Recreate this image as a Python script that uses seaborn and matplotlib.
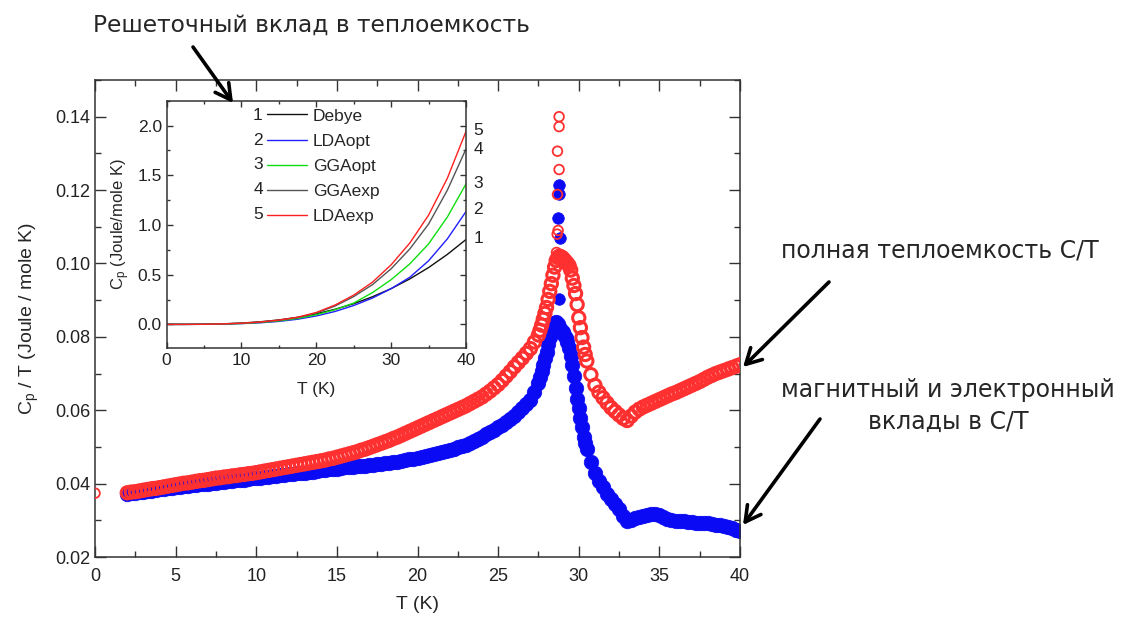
"""
Теплоемкость: полная C/T и магнитный + электронный вклад, во вставке — решеточный вклад
"""

import matplotlib

matplotlib.use("Agg")
import matplotlib.pyplot as plt
import seaborn as sns
from matplotlib.ticker import FormatStrFormatter, MultipleLocator

# pylint: disable=invalid-name

IMAGE_PATH = "out.png"

# --- основные данные: температура, полная C/T, магнитный+электронный вклад ---
T_K = [
    2.0, 2.25, 2.5, 2.75, 3.0, 3.25, 3.5, 3.75, 4.0, 4.25, 4.5, 4.75,
    5.0, 5.25, 5.5, 5.75, 6.0, 6.25, 6.5, 6.75, 7.0, 7.25, 7.5, 7.75,
    8.0, 8.25, 8.5, 8.75, 9.0, 9.25, 9.5, 9.75, 10.0, 10.25, 10.5, 10.75,
    11.0, 11.25, 11.5, 11.75, 12.0, 12.25, 12.5, 12.75, 13.0, 13.25, 13.5, 13.75,
    14.0, 14.25, 14.5, 14.75, 15.0, 15.25, 15.5, 15.75, 16.0, 16.25, 16.5, 16.75,
    17.0, 17.25, 17.5, 17.75, 18.0, 18.25, 18.5, 18.75, 19.0, 19.25, 19.5, 19.75,
    20.0, 20.25, 20.5, 20.75, 21.0, 21.25, 21.5, 21.75, 22.0, 22.25, 22.5, 22.75,
    23.0, 23.25, 23.5, 23.75, 24.0, 24.25, 24.5, 24.75, 25.0, 25.25, 25.5, 25.75,
    26.0, 26.25, 26.5, 26.75, 27.0, 27.25, 27.5,
    27.6, 27.7, 27.8, 27.9, 28.0, 28.1, 28.2, 28.3, 28.4, 28.5,
    28.6, 28.7, 28.8, 28.9, 29.0, 29.1, 29.2, 29.3, 29.4, 29.5,
    29.6, 29.7, 29.8, 29.9, 30.0, 30.1, 30.2, 30.3, 30.4, 30.5,
    30.75, 31.0, 31.25, 31.5, 31.75, 32.0, 32.25, 32.5, 32.75, 33.0,
    33.25, 33.5, 33.75, 34.0, 34.25, 34.5, 34.75, 35.0, 35.25, 35.5,
    35.75, 36.0, 36.25, 36.5, 36.75, 37.0, 37.25, 37.5, 37.75, 38.0,
    38.25, 38.5, 38.75, 39.0, 39.25, 39.5, 39.75, 40.0,
]

CP_TOTAL = [
    0.0375, 0.0377, 0.0378, 0.0380, 0.0382, 0.0384, 0.0386, 0.0387, 0.0389, 0.0391, 0.0393, 0.0395,
    0.0397, 0.0399, 0.0401, 0.0402, 0.0404, 0.0406, 0.0408, 0.0409, 0.0411, 0.0413, 0.0415, 0.0416,
    0.0418, 0.0419, 0.0421, 0.0422, 0.0424, 0.0425, 0.0427, 0.0428, 0.0430, 0.0432, 0.0434, 0.0436,
    0.0438, 0.0440, 0.0442, 0.0444, 0.0446, 0.0448, 0.0450, 0.0452, 0.0454, 0.0456, 0.0458, 0.0460,
    0.0462, 0.0464, 0.0467, 0.0469, 0.0472, 0.0475, 0.0478, 0.0481, 0.0484, 0.0487, 0.0491, 0.0494,
    0.0498, 0.0502, 0.0506, 0.0510, 0.0514, 0.0518, 0.0523, 0.0527, 0.0532, 0.0537, 0.0542, 0.0547,
    0.0552, 0.0557, 0.0562, 0.0567, 0.0572, 0.0577, 0.0582, 0.0587, 0.0592, 0.0597, 0.0602, 0.0607,
    0.0612, 0.0618, 0.0624, 0.0630, 0.0636, 0.0644, 0.0652, 0.0661, 0.0670, 0.0681, 0.0693, 0.0705,
    0.0718, 0.0730, 0.0742, 0.0755, 0.0768, 0.0786, 0.0805,
    0.0818, 0.0832, 0.0848, 0.0864, 0.0880, 0.0902, 0.0924, 0.0945, 0.0968, 0.0990,
    0.1008, 0.1016, 0.1020, 0.1018, 0.1015, 0.1010, 0.1005, 0.1000, 0.0994, 0.0982,
    0.0960, 0.0940, 0.0918, 0.0888, 0.0852, 0.0825, 0.0798, 0.0772, 0.0752, 0.0734,
    0.0697, 0.0668, 0.0649, 0.0634, 0.0620, 0.0607, 0.0597, 0.0587, 0.0578, 0.0572,
    0.0584, 0.0595, 0.0603, 0.0609, 0.0614, 0.0619, 0.0624, 0.0629, 0.0634, 0.0639,
    0.0644, 0.0648, 0.0653, 0.0658, 0.0663, 0.0668, 0.0673, 0.0678, 0.0684, 0.0690,
    0.0695, 0.0700, 0.0704, 0.0708, 0.0712, 0.0716, 0.0720, 0.0724,
]

CP_MAG = [
    0.0372, 0.0374, 0.0375, 0.0377, 0.0378, 0.0380, 0.0381, 0.0383, 0.0384, 0.0386, 0.0387, 0.0389,
    0.0390, 0.0391, 0.0393, 0.0394, 0.0395, 0.0396, 0.0398, 0.0399, 0.0400, 0.0401, 0.0403, 0.0404,
    0.0405, 0.0406, 0.0408, 0.0409, 0.0410, 0.0411, 0.0413, 0.0414, 0.0415, 0.0416, 0.0418, 0.0419,
    0.0420, 0.0421, 0.0423, 0.0424, 0.0425, 0.0426, 0.0428, 0.0429, 0.0430, 0.0431, 0.0433, 0.0435,
    0.0436, 0.0437, 0.0439, 0.0440, 0.0441, 0.0442, 0.0444, 0.0445, 0.0446, 0.0447, 0.0448, 0.0449,
    0.0450, 0.0451, 0.0453, 0.0454, 0.0455, 0.0457, 0.0458, 0.0460, 0.0462, 0.0464, 0.0466, 0.0468,
    0.0470, 0.0472, 0.0475, 0.0477, 0.0480, 0.0483, 0.0486, 0.0489, 0.0492, 0.0495, 0.0499, 0.0502,
    0.0506, 0.0511, 0.0517, 0.0522, 0.0528, 0.0534, 0.0541, 0.0547, 0.0554, 0.0561, 0.0569, 0.0577,
    0.0585, 0.0595, 0.0606, 0.0617, 0.0628, 0.0650, 0.0675,
    0.0690, 0.0706, 0.0724, 0.0742, 0.0760, 0.0780, 0.0800, 0.0818, 0.0832, 0.0838,
    0.0840, 0.0836, 0.0828, 0.0820, 0.0812, 0.0805, 0.0797, 0.0785, 0.0770, 0.0748,
    0.0722, 0.0692, 0.0660, 0.0632, 0.0605, 0.0580, 0.0553, 0.0528, 0.0511, 0.0495,
    0.0459, 0.0430, 0.0408, 0.0390, 0.0373, 0.0358, 0.0344, 0.0330, 0.0312, 0.0298,
    0.0302, 0.0306, 0.0308, 0.0311, 0.0315, 0.0318, 0.0317, 0.0314, 0.0309, 0.0304,
    0.0301, 0.0299, 0.0298, 0.0297, 0.0296, 0.0295, 0.0294, 0.0293, 0.0293, 0.0292,
    0.0290, 0.0288, 0.0286, 0.0284, 0.0281, 0.0278, 0.0274, 0.0270,
]

# отдельные точки на пике перехода (и одна точка при T = 0)
SPIKE_T_RED = [0.0, 28.78, 28.78, 28.68, 28.78, 28.68, 28.72, 28.66, 28.62]
SPIKE_RED = [0.0374, 0.1400, 0.1373, 0.1306, 0.1256, 0.1188, 0.1090, 0.1080, 0.1030]
SPIKE_T_BLUE = [28.78, 28.80, 28.70, 28.82, 28.80]
SPIKE_BLUE = [0.1215, 0.1190, 0.1124, 0.1070, 0.0903]

# --- вставка: решеточный вклад, разные расчеты ---
INSET_T = [0, 2.5, 5, 7.5, 10, 12.5, 15, 17.5, 20, 22.5, 25, 27.5, 30, 32.5, 35, 37.5, 40]
INSET_NAMES = ["Debye", "LDAopt", "GGAopt", "GGAexp", "LDAexp"]
CP_DEBYE = [0, 0.0002, 0.0017, 0.0056, 0.013, 0.026, 0.045, 0.071, 0.107,
            0.152, 0.208, 0.278, 0.360, 0.458, 0.572, 0.704, 0.854]
CP_LDA_OPT = [0, 0.0001, 0.0008, 0.003, 0.008, 0.016, 0.030, 0.052, 0.085,
              0.130, 0.190, 0.265, 0.360, 0.475, 0.640, 0.860, 1.136]
CP_GGA_OPT = [0, 0.0001, 0.001, 0.004, 0.009, 0.019, 0.035, 0.060, 0.097,
              0.148, 0.215, 0.320, 0.450, 0.610, 0.810, 1.080, 1.414]
CP_GGA_EXP = [0, 0.0001, 0.001, 0.005, 0.011, 0.022, 0.040, 0.068, 0.115,
              0.185, 0.280, 0.400, 0.560, 0.760, 1.010, 1.350, 1.766]
CP_LDA_EXP = [0, 0.0001, 0.001, 0.005, 0.012, 0.024, 0.043, 0.072, 0.120,
              0.195, 0.295, 0.425, 0.600, 0.820, 1.100, 1.470, 1.943]
INSET_COLORS = ["#111111", "#2020ff", "#10dd10", "#555555", "#ff2020"]

RED = "#ff3030"
BLUE = "#0a0af5"
TEXT_FONT = "DejaVu Sans"

assert len(T_K) == len(CP_TOTAL) == len(CP_MAG)


def style_axis(ax, major_len, minor_len, labelsize):
    """Засечки внутрь со всех четырех сторон, как в Origin."""
    ax.tick_params(which="both", direction="in", top=True, right=True,
                   width=1.0, colors="#333333", labelcolor="#222222")
    ax.tick_params(which="major", length=major_len, labelsize=labelsize)
    ax.tick_params(which="minor", length=minor_len)
    for spine in ax.spines.values():
        spine.set_visible(True)
        spine.set_linewidth(1.1)
        spine.set_color("#333333")


def main():
    sns.set_style("ticks")
    plt.rcParams["font.family"] = ["Liberation Sans", "DejaVu Sans"]
    plt.rcParams["mathtext.default"] = "regular"

    fig = plt.figure(figsize=(11.26, 6.26), dpi=100)
    ax = fig.add_axes([0.0844, 0.1102, 0.5728, 0.7620])

    sns.scatterplot(x=T_K, y=CP_MAG, ax=ax, color=BLUE, edgecolor=BLUE,
                    s=110, linewidth=0.5, zorder=2, legend=False)
    sns.scatterplot(x=SPIKE_T_BLUE, y=SPIKE_BLUE, ax=ax, color=BLUE, edgecolor=BLUE,
                    s=70, linewidth=0.5, zorder=2, legend=False)
    sns.scatterplot(x=T_K, y=CP_TOTAL, ax=ax, facecolor="none", edgecolor=RED,
                    s=78, linewidth=2.2, zorder=3, legend=False)
    sns.scatterplot(x=SPIKE_T_RED, y=SPIKE_RED, ax=ax, facecolor="none", edgecolor=RED,
                    s=48, linewidth=1.3, zorder=3, legend=False)

    ax.set_xlim(0, 40)
    ax.set_ylim(0.02, 0.15)
    ax.xaxis.set_major_locator(MultipleLocator(5))
    ax.xaxis.set_minor_locator(MultipleLocator(2.5))
    ax.yaxis.set_major_locator(MultipleLocator(0.02))
    ax.yaxis.set_minor_locator(MultipleLocator(0.01))
    ax.yaxis.set_major_formatter(FormatStrFormatter("%.2f"))
    ax.set_yticks([0.02, 0.04, 0.06, 0.08, 0.10, 0.12, 0.14])
    style_axis(ax, 8, 4, 13)
    ax.tick_params(axis="x", which="major", pad=8)
    ax.set_xlabel("T (K)", fontsize=14, labelpad=8)
    ax.set_ylabel("C$_\\mathregular{p}$ / T (Joule / mole K)", fontsize=14, labelpad=10)

    # вставка
    ax_in = fig.add_axes([0.1480, 0.4437, 0.2659, 0.3954])
    ax_in.set_facecolor("white")
    curves = [CP_DEBYE, CP_LDA_OPT, CP_GGA_OPT, CP_GGA_EXP, CP_LDA_EXP]
    for name, vals, col in zip(INSET_NAMES, curves, INSET_COLORS):
        sns.lineplot(x=INSET_T, y=vals, ax=ax_in, color=col, lw=1.0, label=name)
    ax_in.set_xlim(0, 40)
    ax_in.set_ylim(-0.24, 2.25)
    ax_in.xaxis.set_major_locator(MultipleLocator(10))
    ax_in.xaxis.set_minor_locator(MultipleLocator(5))
    ax_in.yaxis.set_major_locator(MultipleLocator(0.5))
    ax_in.yaxis.set_minor_locator(MultipleLocator(0.25))
    ax_in.yaxis.set_major_formatter(FormatStrFormatter("%.1f"))
    style_axis(ax_in, 4, 2, 12.5)
    ax_in.set_xlabel("T (K)", fontsize=12.5, labelpad=10)
    ax_in.set_ylabel("C$_\\mathregular{p}$ (Joule/mole K)", fontsize=12, labelpad=4)

    handles, labels = ax_in.get_legend_handles_labels()
    ax_in.legend(handles, labels, loc="upper left", bbox_to_anchor=(0.335, 0.969),
                 frameon=False, fontsize=12.5, handlelength=2.3, handletextpad=0.35,
                 labelspacing=0.58, borderpad=0, borderaxespad=0)
    row_y = [0.9423, 0.8413, 0.7415, 0.6405, 0.5396]
    for i, y in enumerate(row_y, start=1):
        ax_in.text(0.305, y, str(i), transform=ax_in.transAxes, ha="center",
                   va="center", fontsize=12.5, color="#222222")
    end_y = [0.444, 0.559, 0.666, 0.801, 0.881]
    for i, y in enumerate(end_y, start=1):
        ax_in.text(1.041, y, str(i), transform=ax_in.transAxes, ha="center",
                   va="center", fontsize=12.5, color="#222222", clip_on=False)

    # подписи и стрелки
    fig.text(93 / 1126, 1 - 25 / 626, "Решеточный вклад в теплоемкость",
             family=TEXT_FONT, fontsize=16.8, ha="left", va="center")
    fig.text(940 / 1126, 1 - 250 / 626, "полная теплоемкость C/T",
             family=TEXT_FONT, fontsize=17, ha="center", va="center")
    fig.text(948 / 1126, 1 - 406 / 626, "магнитный и электронный\nвклады в C/T",
             family=TEXT_FONT, fontsize=17, ha="center", va="center",
             multialignment="center", linespacing=1.45)

    arrow = {"arrowstyle": "->, head_length=0.55, head_width=0.3",
             "lw": 2.6, "color": "black", "mutation_scale": 20,
             "shrinkA": 0, "shrinkB": 0}
    for tail, head in [((193, 47), (233, 103)),
                       ((829, 282), (743, 367)),
                       ((820, 419), (743, 525))]:
        fig.add_artist(matplotlib.patches.FancyArrowPatch(
            (tail[0], 626 - tail[1]), (head[0], 626 - head[1]),
            transform=None, **arrow))

    fig.savefig(IMAGE_PATH, dpi=100, facecolor="white")


if __name__ == "__main__":
    main()
